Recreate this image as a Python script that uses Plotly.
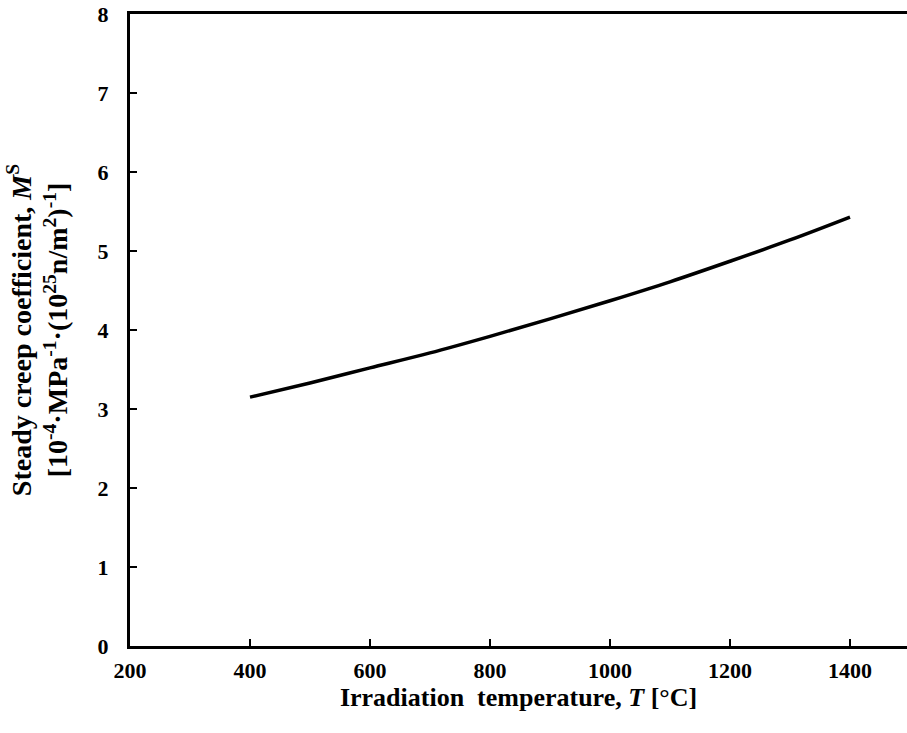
import plotly.graph_objects as go

temperature = [400, 500, 600, 700, 800, 900, 1000, 1100, 1200, 1300, 1400]
creep_coeff = [3.15, 3.33, 3.52, 3.71, 3.92, 4.14, 4.37, 4.61, 4.87, 5.14, 5.43]
x_ticks = [200, 400, 600, 800, 1000, 1200, 1400]
y_ticks = [0, 1, 2, 3, 4, 5, 6, 7, 8]

FONT = "Liberation Serif"

fig = go.Figure()
fig.add_trace(go.Scatter(x=temperature, y=creep_coeff, mode="lines",
                         line=dict(color="black", width=3.5, shape="spline"),
                         showlegend=False))

fig.update_layout(
    width=907, height=733,
    margin=dict(l=130, r=0, t=14, b=87),
    plot_bgcolor="white", paper_bgcolor="white",
    font=dict(family=FONT, color="black"),
)
fig.update_xaxes(
    range=[200, 1495], tickvals=x_ticks, ticks="inside", ticklen=7, tickwidth=2,
    tickcolor="black", showline=True, linecolor="black", linewidth=3, mirror=True,
    showgrid=False, zeroline=False, ticklabelstandoff=3,
    tickfont=dict(family=FONT, size=22, color="black", weight="bold"),
    title=dict(text="<b>Irradiation  temperature, <i>T</i> [°C]</b>",
               font=dict(family=FONT, size=26, color="black"), standoff=0),
)
fig.update_yaxes(
    range=[0, 8], tickvals=y_ticks, ticks="inside", ticklen=7, tickwidth=2,
    tickcolor="black", showline=True, linecolor="black", linewidth=3, mirror=False,
    showgrid=False, zeroline=False, ticklabelstandoff=14,
    tickfont=dict(family=FONT, size=22, color="black", weight="bold"),
    title=dict(text="<b>Steady creep coefficient, <i>M</i><sup>S</sup></b><br>"
                    "<b>[10<sup>-4</sup>·MPa<sup>-1</sup>·(10<sup>25</sup>n/m<sup>2</sup>)<sup>-1</sup>]</b>",
               font=dict(family=FONT, size=28, color="black"), standoff=22),
)

fig.write_html("out.html")
